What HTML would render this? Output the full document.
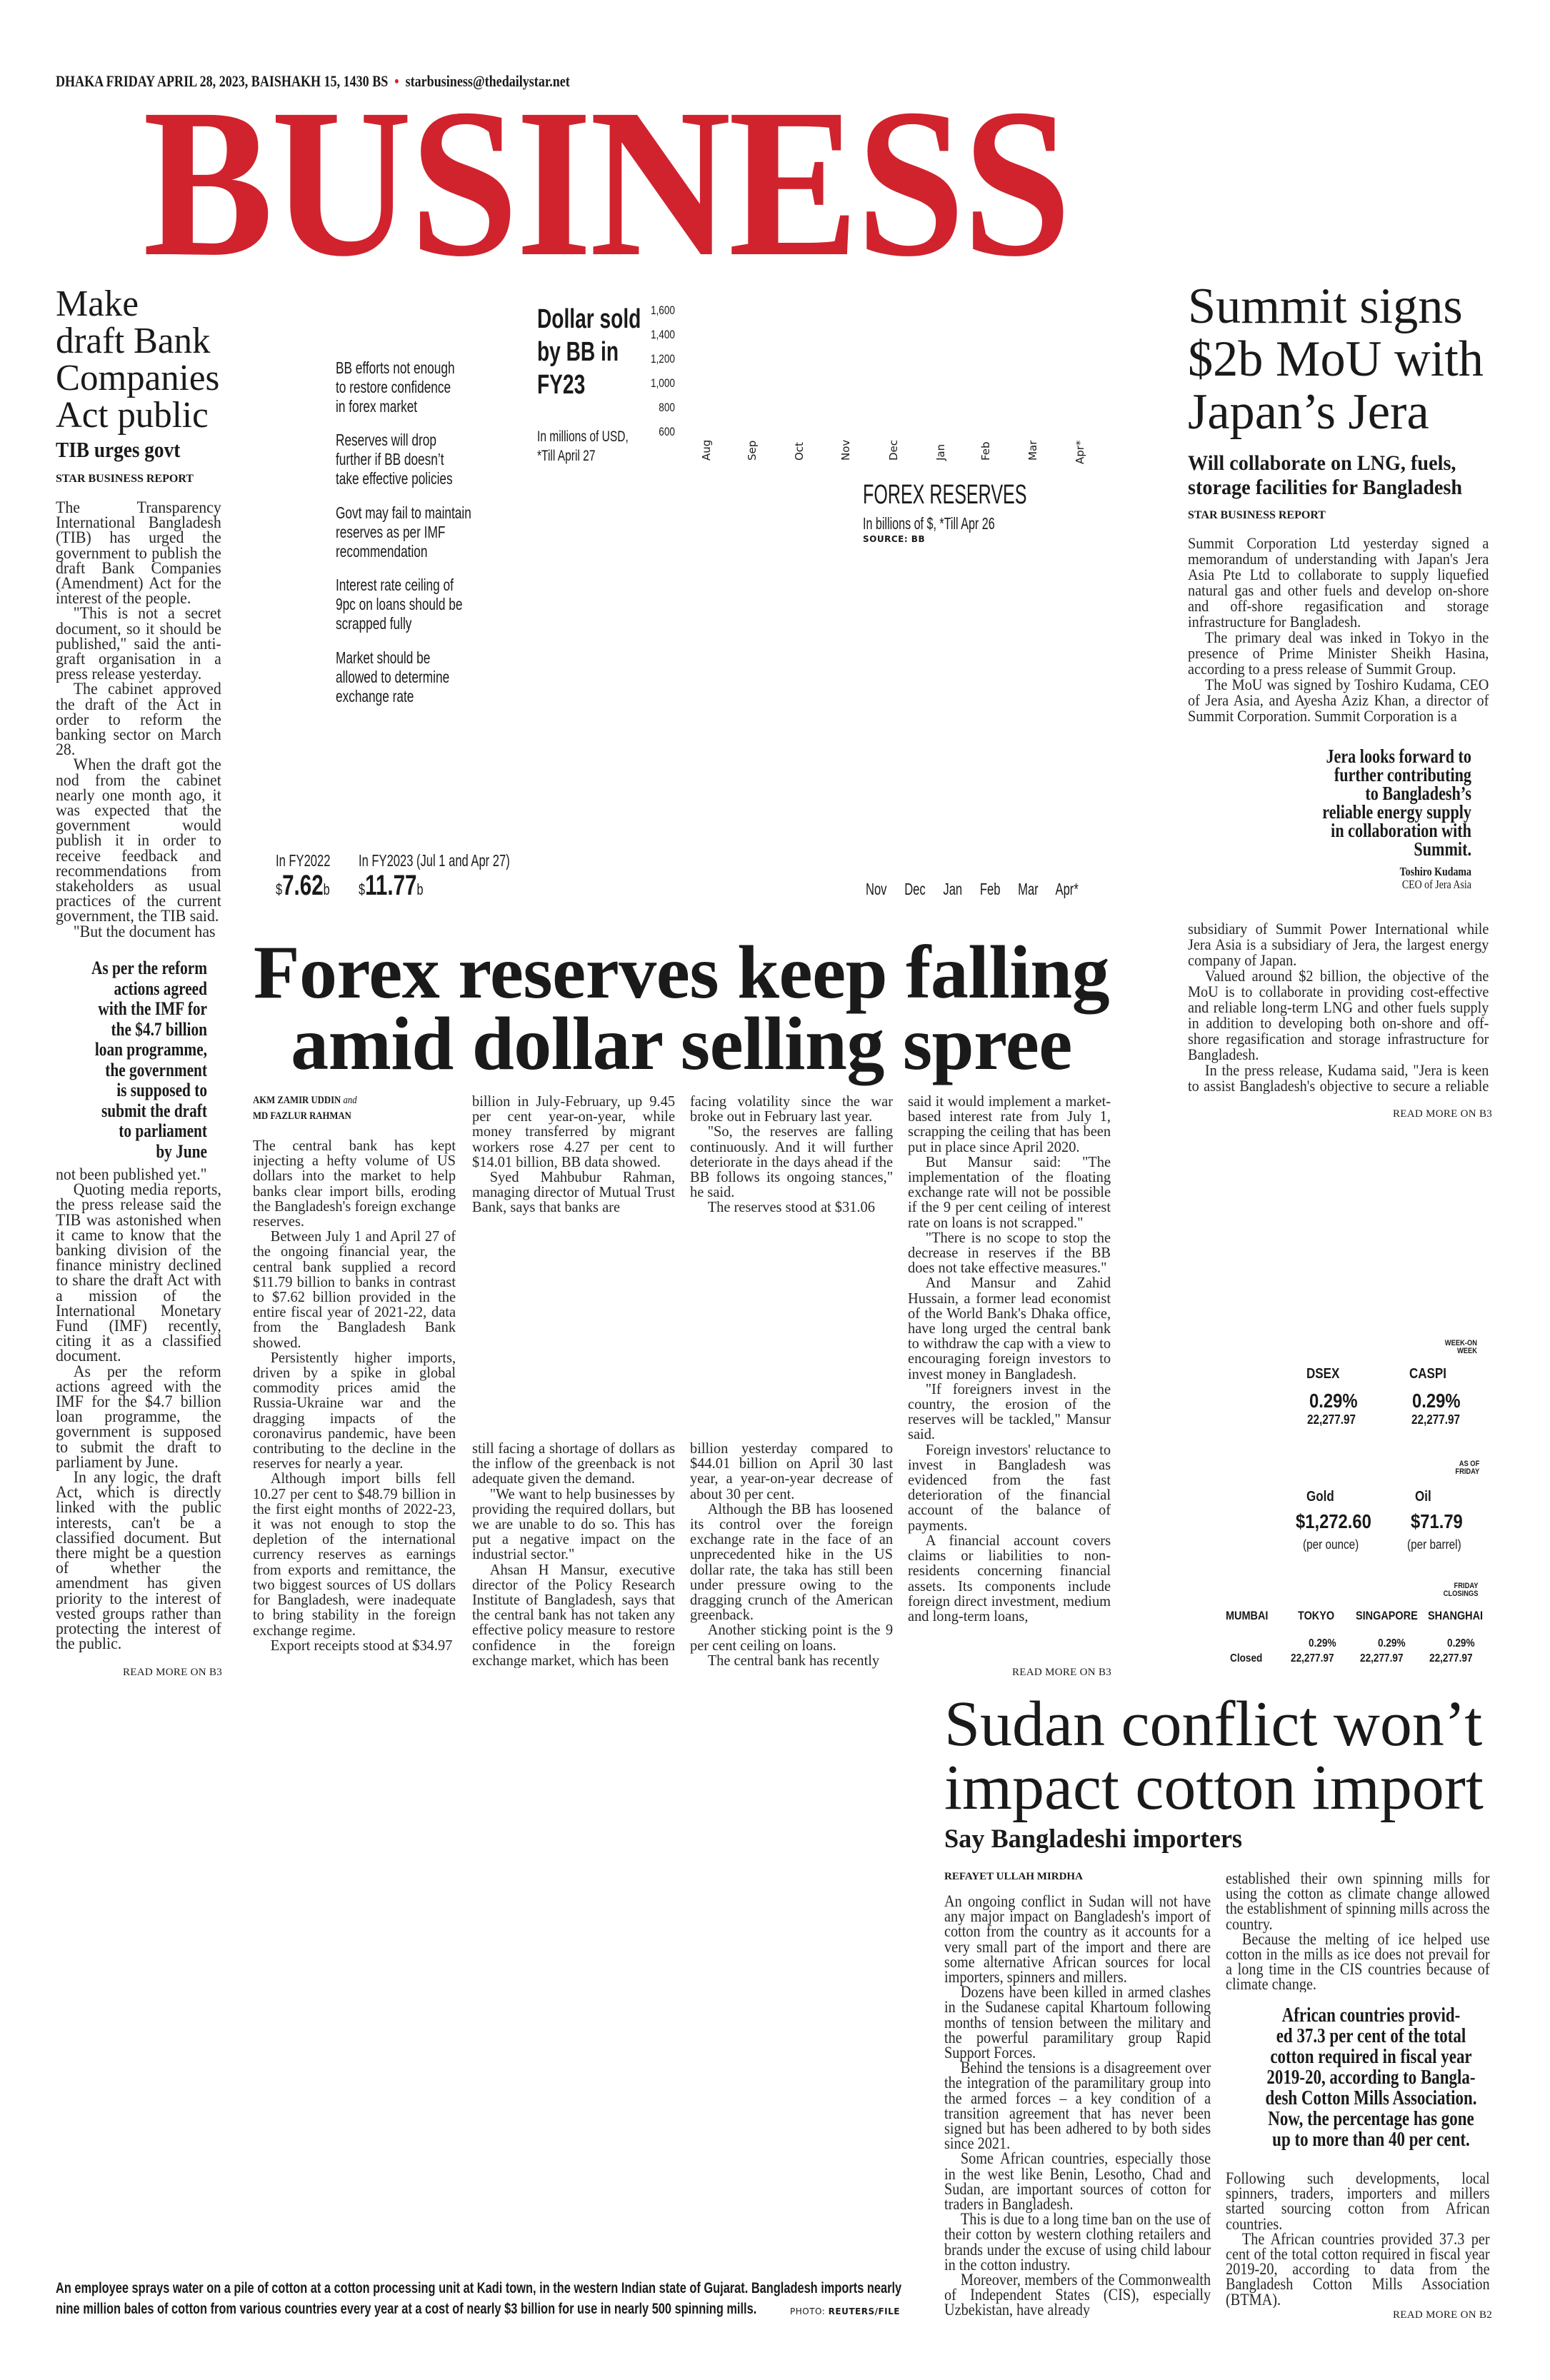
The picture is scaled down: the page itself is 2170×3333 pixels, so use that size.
<!DOCTYPE html>
<html><head><meta charset="utf-8">
<style>
*{margin:0;padding:0;box-sizing:border-box}
body{width:2170px;height:3333px;background:#fff;position:relative;overflow:hidden;font-family:"Liberation Serif",serif;color:#1a1a1a}
.a{position:absolute}
.cond{font-family:"Liberation Sans Narrow","Liberation Sans",sans-serif}
.body{position:absolute;font-family:"Liberation Serif",serif;font-size:23px;line-height:21.2px;text-align:justify;color:#262626;transform:scaleX(0.95);transform-origin:0 0;overflow:hidden;hyphens:auto}
.body p{text-indent:26px}
.body p.ni{text-indent:0}
.fx{font-size:21.5px}
.rm{position:absolute;font-size:15px;font-family:"Liberation Serif",serif;letter-spacing:0.3px;white-space:nowrap}
.pq{position:absolute;font-weight:bold;text-align:right;transform:scaleX(0.82);transform-origin:100% 0}
.hl{position:absolute;font-family:"Liberation Serif",serif;transform-origin:0 0;white-space:nowrap}
.bul{position:absolute;left:470px;font-size:23px;line-height:27px;transform:scaleX(0.75);transform-origin:0 0;white-space:nowrap;font-family:"Liberation Sans Narrow","Liberation Sans",sans-serif}
.mo{position:absolute;font-family:"DejaVu Sans",sans-serif;font-size:15px;transform:rotate(-90deg);transform-origin:0 0;white-space:nowrap}
.mk{position:absolute;font-family:"Liberation Sans",sans-serif;font-weight:bold;transform:scaleX(0.85);transform-origin:0 0;white-space:nowrap}
</style></head><body>

<div class="a" style="left:78px;top:101px;font-size:22px;font-weight:bold;white-space:nowrap;transform:scaleX(0.82);transform-origin:0 0">DHAKA FRIDAY APRIL 28, 2023, BAISHAKH 15, 1430 BS <span style="color:#d0232e">&nbsp;•&nbsp;</span> starbusiness@thedailystar.net</div>

<div class="a" style="left:200px;top:96px;font-size:298px;line-height:320px;font-weight:bold;color:#d0232e;white-space:nowrap;transform:scaleX(0.92);transform-origin:0 0;letter-spacing:-4px">BUSINESS</div>

<!-- LEFT COLUMN -->
<div class="hl" style="left:78px;top:400px;font-size:52px;line-height:52px;transform:scaleX(0.98)">Make<br>draft Bank<br>Companies<br>Act public</div>
<div class="hl" style="left:78px;top:612px;font-size:31px;font-weight:bold;transform:scaleX(0.88)">TIB urges govt</div>
<div class="hl" style="left:78px;top:662px;font-size:16px;font-weight:bold">STAR BUSINESS REPORT</div>
<div class="body" style="left:78px;top:700px;width:244px;height:615px">
<p class="ni">The Transparency International Bangladesh (TIB) has urged the government to publish the draft Bank Companies (Amendment) Act for the interest of the people.</p>
<p>"This is not a secret document, so it should be published," said the anti-graft organisation in a press release yesterday.</p>
<p>The cabinet approved the draft of the Act in order to reform the banking sector on March 28.</p>
<p>When the draft got the nod from the cabinet nearly one month ago, it was expected that the government would publish it in order to receive feedback and recommendations from stakeholders as usual practices of the current government, the TIB said.</p>
<p>"But the document has</p>
</div>
<div class="pq" style="left:0px;top:1342px;width:290px;font-size:26px;line-height:28.5px">As per the reform<br>actions agreed<br>with the IMF for<br>the $4.7 billion<br>loan programme,<br>the government<br>is supposed to<br>submit the draft<br>to parliament<br>by June</div>
<div class="body" style="left:78px;top:1634px;width:244px;height:700px">
<p class="ni">not been published yet."</p>
<p>Quoting media reports, the press release said the TIB was astonished when it came to know that the banking division of the finance ministry declined to share the draft Act with a mission of the International Monetary Fund (IMF) recently, citing it as a classified document.</p>
<p>As per the reform actions agreed with the IMF for the $4.7 billion loan programme, the government is supposed to submit the draft to parliament by June.</p>
<p>In any logic, the draft Act, which is directly linked with the public interests, can't be a classified document. But there might be a question of whether the amendment has given priority to the interest of vested groups rather than protecting the interest of the public.</p>
</div>
<div class="rm" style="left:172px;top:2334px">READ MORE ON B3</div>

<!-- CENTER GRAPHIC -->
<div class="bul" style="top:502px">BB efforts not enough<br>to restore confidence<br>in forex market</div>
<div class="bul" style="top:603px">Reserves will drop<br>further if BB doesn’t<br>take effective policies</div>
<div class="bul" style="top:705px">Govt may fail to maintain<br>reserves as per IMF<br>recommendation</div>
<div class="bul" style="top:806px">Interest rate ceiling of<br>9pc on loans should be<br>scrapped fully</div>
<div class="bul" style="top:908px">Market should be<br>allowed to determine<br>exchange rate</div>

<div class="a cond" style="left:752px;top:424px;font-size:38px;line-height:46px;font-weight:bold;transform:scaleX(0.74);transform-origin:0 0;white-space:nowrap">Dollar sold<br>by BB in<br>FY23</div>
<div class="a cond" style="left:895px;top:418px;width:50px;text-align:right;font-size:17px;line-height:34px;transform:scaleX(0.8);transform-origin:100% 0">1,600<br>1,400<br>1,200<br>1,000<br>800<br>600</div>
<div class="a cond" style="left:752px;top:598px;font-size:21px;line-height:27px;transform:scaleX(0.74);transform-origin:0 0;white-space:nowrap">In millions of USD,<br>*Till April 27</div>
<div class="mo" style="left:980px;top:645px">Aug</div>
<div class="mo" style="left:1044px;top:645px">Sep</div>
<div class="mo" style="left:1110px;top:645px">Oct</div>
<div class="mo" style="left:1175px;top:645px">Nov</div>
<div class="mo" style="left:1242px;top:645px">Dec</div>
<div class="mo" style="left:1308px;top:645px">Jan</div>
<div class="mo" style="left:1371px;top:645px">Feb</div>
<div class="mo" style="left:1437px;top:645px">Mar</div>
<div class="mo" style="left:1503px;top:650px">Apr*</div>
<div class="a cond" style="left:1208px;top:672px;font-size:38px;transform:scaleX(0.66);transform-origin:0 0;white-space:nowrap">FOREX RESERVES</div>
<div class="a cond" style="left:1208px;top:720px;font-size:23px;transform:scaleX(0.7);transform-origin:0 0;white-space:nowrap">In billions of $, *Till Apr 26</div>
<div class="a" style="left:1208px;top:748px;font-size:12px;font-weight:bold;font-family:'DejaVu Sans',sans-serif;letter-spacing:0.5px">SOURCE: BB</div>

<div class="a cond" style="left:386px;top:1192px;font-size:23px;transform:scaleX(0.72);transform-origin:0 0;white-space:nowrap">In FY2022</div>
<div class="a cond" style="left:502px;top:1192px;font-size:23px;transform:scaleX(0.72);transform-origin:0 0;white-space:nowrap">In FY2023 (Jul 1 and Apr 27)</div>
<div class="a cond" style="left:386px;top:1218px;font-size:40px;font-weight:bold;transform:scaleX(0.74);transform-origin:0 0;white-space:nowrap"><span style="font-size:22px;font-weight:normal">$</span>7.62<span style="font-size:22px;font-weight:normal">b</span></div>
<div class="a cond" style="left:502px;top:1218px;font-size:40px;font-weight:bold;transform:scaleX(0.74);transform-origin:0 0;white-space:nowrap"><span style="font-size:22px;font-weight:normal">$</span>11.77<span style="font-size:22px;font-weight:normal">b</span></div>
<div class="a cond" style="left:1212px;top:1232px;font-size:23px;transform:scaleX(0.72);transform-origin:0 0;white-space:nowrap;word-spacing:28px">Nov Dec Jan Feb Mar Apr*</div>

<!-- RIGHT COLUMN SUMMIT -->
<div class="hl" style="left:1663px;top:392px;font-size:71px;line-height:74px;transform:scaleX(0.99)">Summit signs<br>$2b MoU with<br>Japan’s Jera</div>
<div class="hl" style="left:1663px;top:632px;font-size:30px;line-height:34px;font-weight:bold;transform:scaleX(0.94)">Will collaborate on LNG, fuels,<br>storage facilities for Bangladesh</div>
<div class="hl" style="left:1663px;top:713px;font-size:16px;font-weight:bold">STAR BUSINESS REPORT</div>
<div class="body" style="left:1663px;top:750px;width:458px;height:264px;transform:scaleX(0.92);font-size:22px;line-height:22px">
<p class="ni">Summit Corporation Ltd yesterday signed a memorandum of understanding with Japan's Jera Asia Pte Ltd to collaborate to supply liquefied natural gas and other fuels and develop on-shore and off-shore regasification and storage infrastructure for Bangladesh.</p>
<p>The primary deal was inked in Tokyo in the presence of Prime Minister Sheikh Hasina, according to a press release of Summit Group.</p>
<p>The MoU was signed by Toshiro Kudama, CEO of Jera Asia, and Ayesha Aziz Khan, a director of Summit Corporation. Summit Corporation is a</p>
</div>
<div class="pq" style="left:1740px;top:1046px;width:320px;font-size:27px;line-height:26px">Jera looks forward to<br>further contributing<br>to Bangladesh’s<br>reliable energy supply<br>in collaboration with<br>Summit.</div>
<div class="pq" style="left:1800px;top:1212px;width:260px;font-size:17px;line-height:18px">Toshiro Kudama<br><span style="font-weight:normal">CEO of Jera Asia</span></div>
<div class="body" style="left:1663px;top:1290px;width:458px;height:242px;transform:scaleX(0.92);font-size:22px;line-height:22px">
<p class="ni">subsidiary of Summit Power International while Jera Asia is a subsidiary of Jera, the largest energy company of Japan.</p>
<p>Valued around $2 billion, the objective of the MoU is to collaborate in providing cost-effective and reliable long-term LNG and other fuels supply in addition to developing both on-shore and off-shore regasification and storage infrastructure for Bangladesh.</p>
<p>In the press release, Kudama said, "Jera is keen to assist Bangladesh's objective to secure a reliable energy supply and is pleased to be able to do that</p>
</div>
<div class="rm" style="left:1950px;top:1552px">READ MORE ON B3</div>

<!-- MAIN HEADLINE -->
<div class="a" style="left:340px;top:1312px;width:1228px;text-align:center;font-size:106px;line-height:100px;font-weight:bold;letter-spacing:-0.5px;white-space:nowrap">Forex reserves keep falling<br>amid dollar selling spree</div>
<div class="a" style="left:354px;top:1530px;font-size:15px;line-height:22px;font-weight:bold;transform:scaleX(0.85);transform-origin:0 0">AKM ZAMIR UDDIN <i style="font-weight:normal">and</i><br>MD FAZLUR RAHMAN</div>
<div class="body fx" style="left:354px;top:1594px;width:299px;height:742px">
<p class="ni">The central bank has kept injecting a hefty volume of US dollars into the market to help banks clear import bills, eroding the Bangladesh's foreign exchange reserves.</p>
<p>Between July 1 and April 27 of the ongoing financial year, the central bank supplied a record $11.79 billion to banks in contrast to $7.62 billion provided in the entire fiscal year of 2021-22, data from the Bangladesh Bank showed.</p>
<p>Persistently higher imports, driven by a spike in global commodity prices amid the Russia-Ukraine war and the dragging impacts of the coronavirus pandemic, have been contributing to the decline in the reserves for nearly a year.</p>
<p>Although import bills fell 10.27 per cent to $48.79 billion in the first eight months of 2022-23, it was not enough to stop the depletion of the international currency reserves as earnings from exports and remittance, the two biggest sources of US dollars for Bangladesh, were inadequate to bring stability in the foreign exchange regime.</p>
<p>Export receipts stood at $34.97</p>
</div>
<div class="body fx" style="left:661px;top:1532px;width:299px;height:234px">
<p class="ni">billion in July-February, up 9.45 per cent year-on-year, while money transferred by migrant workers rose 4.27 per cent to $14.01 billion, BB data showed.</p>
<p>Syed Mahbubur Rahman, managing director of Mutual Trust Bank, says that banks are</p>
</div>
<div class="body fx" style="left:661px;top:2018px;width:299px;height:318px">
<p class="ni">still facing a shortage of dollars as the inflow of the greenback is not adequate given the demand.</p>
<p>"We want to help businesses by providing the required dollars, but we are unable to do so. This has put a negative impact on the industrial sector."</p>
<p>Ahsan H Mansur, executive director of the Policy Research Institute of Bangladesh, says that the central bank has not taken any effective policy measure to restore confidence in the foreign exchange market, which has been</p>
</div>
<div class="body fx" style="left:966px;top:1532px;width:299px;height:172px">
<p class="ni">facing volatility since the war broke out in February last year.</p>
<p>"So, the reserves are falling continuously. And it will further deteriorate in the days ahead if the BB follows its ongoing stances," he said.</p>
<p>The reserves stood at $31.06</p>
</div>
<div class="body fx" style="left:966px;top:2018px;width:299px;height:382px">
<p class="ni">billion yesterday compared to $44.01 billion on April 30 last year, a year-on-year decrease of about 30 per cent.</p>
<p>Although the BB has loosened its control over the foreign exchange rate in the face of an unprecedented hike in the US dollar rate, the taka has still been under pressure owing to the dragging crunch of the American greenback.</p>
<p>Another sticking point is the 9 per cent ceiling on loans.</p>
<p>The central bank has recently</p>
</div>
<div class="body fx" style="left:1271px;top:1532px;width:299px;height:785px">
<p class="ni">said it would implement a market-based interest rate from July 1, scrapping the ceiling that has been put in place since April 2020.</p>
<p>But Mansur said: "The implementation of the floating exchange rate will not be possible if the 9 per cent ceiling of interest rate on loans is not scrapped."</p>
<p>"There is no scope to stop the decrease in reserves if the BB does not take effective measures."</p>
<p>And Mansur and Zahid Hussain, a former lead economist of the World Bank's Dhaka office, have long urged the central bank to withdraw the cap with a view to encouraging foreign investors to invest money in Bangladesh.</p>
<p>"If foreigners invest in the country, the erosion of the reserves will be tackled," Mansur said.</p>
<p>Foreign investors' reluctance to invest in Bangladesh was evidenced from the fast deterioration of the financial account of the balance of payments.</p>
<p>A financial account covers claims or liabilities to non-residents concerning financial assets. Its components include foreign direct investment, medium and long-term loans,</p>
</div>
<div class="rm" style="left:1417px;top:2334px">READ MORE ON B3</div>

<!-- MARKETS -->
<div class="mk" style="left:2000px;top:1876px;font-size:11px;line-height:11px;text-align:right;width:80px">WEEK-ON<br>WEEK</div>
<div class="mk" style="left:1829px;top:1913px;font-size:20px">DSEX</div>
<div class="mk" style="left:1973px;top:1913px;font-size:20px">CASPI</div>
<div class="mk" style="left:1833px;top:1946px;font-size:28px">0.29%</div>
<div class="mk" style="left:1977px;top:1946px;font-size:28px">0.29%</div>
<div class="mk" style="left:1830px;top:1978px;font-size:18px">22,277.97</div>
<div class="mk" style="left:1976px;top:1978px;font-size:18px">22,277.97</div>
<div class="mk" style="left:2022px;top:2045px;font-size:11px;line-height:11px;text-align:right;width:58px">AS OF<br>FRIDAY</div>
<div class="mk" style="left:1829px;top:2085px;font-size:20px">Gold</div>
<div class="mk" style="left:1981px;top:2085px;font-size:20px">Oil</div>
<div class="mk" style="left:1814px;top:2115px;font-size:28px">$1,272.60</div>
<div class="mk" style="left:1975px;top:2115px;font-size:28px">$71.79</div>
<div class="mk" style="left:1824px;top:2153px;font-size:18px;font-weight:normal">(per ounce)</div>
<div class="mk" style="left:1970px;top:2153px;font-size:18px;font-weight:normal">(per barrel)</div>
<div class="mk" style="left:2010px;top:2216px;font-size:11px;line-height:11px;text-align:right;width:70px">FRIDAY<br>CLOSINGS</div>
<div class="mk" style="left:1716px;top:2253px;font-size:17px">MUMBAI</div>
<div class="mk" style="left:1817px;top:2253px;font-size:17px">TOKYO</div>
<div class="mk" style="left:1898px;top:2253px;font-size:17px">SINGAPORE</div>
<div class="mk" style="left:1999px;top:2253px;font-size:17px">SHANGHAI</div>
<div class="mk" style="left:1832px;top:2293px;font-size:16px">0.29%</div>
<div class="mk" style="left:1929px;top:2293px;font-size:16px">0.29%</div>
<div class="mk" style="left:2026px;top:2293px;font-size:16px">0.29%</div>
<div class="mk" style="left:1722px;top:2314px;font-size:16px">Closed</div>
<div class="mk" style="left:1807px;top:2314px;font-size:16px">22,277.97</div>
<div class="mk" style="left:1904px;top:2314px;font-size:16px">22,277.97</div>
<div class="mk" style="left:2001px;top:2314px;font-size:16px">22,277.97</div>

<!-- SUDAN -->
<div class="hl" style="left:1322px;top:2370px;font-size:90px;line-height:89px;transform:scaleX(1.0)">Sudan conflict won’t<br>impact cotton import</div>
<div class="hl" style="left:1322px;top:2554px;font-size:37px;font-weight:bold;transform:scaleX(0.98)">Say Bangladeshi importers</div>
<div class="hl" style="left:1322px;top:2620px;font-size:15px;font-weight:bold">REFAYET ULLAH MIRDHA</div>
<div class="body" style="left:1322px;top:2652px;width:424px;height:594px;transform:scaleX(0.88)">
<p class="ni">An ongoing conflict in Sudan will not have any major impact on Bangladesh's import of cotton from the country as it accounts for a very small part of the import and there are some alternative African sources for local importers, spinners and millers.</p>
<p>Dozens have been killed in armed clashes in the Sudanese capital Khartoum following months of tension between the military and the powerful paramilitary group Rapid Support Forces.</p>
<p>Behind the tensions is a disagreement over the integration of the paramilitary group into the armed forces – a key condition of a transition agreement that has never been signed but has been adhered to by both sides since 2021.</p>
<p>Some African countries, especially those in the west like Benin, Lesotho, Chad and Sudan, are important sources of cotton for traders in Bangladesh.</p>
<p>This is due to a long time ban on the use of their cotton by western clothing retailers and brands under the excuse of using child labour in the cotton industry.</p>
<p>Moreover, members of the Commonwealth of Independent States (CIS), especially Uzbekistan, have already</p>
</div>
<div class="body" style="left:1716px;top:2620px;width:420px;height:170px;transform:scaleX(0.88)">
<p class="ni">established their own spinning mills for using the cotton as climate change allowed the establishment of spinning mills across the country.</p>
<p>Because the melting of ice helped use cotton in the mills as ice does not prevail for a long time in the CIS countries because of climate change.</p>
</div>
<div class="pq" style="left:1700px;top:2808px;width:372px;font-size:28px;line-height:29px;text-align:center">African countries provid-<br>ed 37.3 per cent of the total<br>cotton required in fiscal year<br>2019-20, according to Bangla-<br>desh Cotton Mills Association.<br>Now, the percentage has gone<br>up to more than 40 per cent.</div>
<div class="body" style="left:1716px;top:3040px;width:420px;height:192px;transform:scaleX(0.88)">
<p class="ni">Following such developments, local spinners, traders, importers and millers started sourcing cotton from African countries.</p>
<p>The African countries provided 37.3 per cent of the total cotton required in fiscal year 2019-20, according to data from the Bangladesh Cotton Mills Association (BTMA).</p>
</div>
<div class="rm" style="left:1950px;top:3234px">READ MORE ON B2</div>

<div class="a cond" style="left:78px;top:3190px;font-size:21px;line-height:29px;font-weight:bold;transform:scaleX(0.78);transform-origin:0 0;white-space:nowrap">An employee sprays water on a pile of cotton at a cotton processing unit at Kadi town, in the western Indian state of Gujarat. Bangladesh imports nearly<br>nine million bales of cotton from various countries every year at a cost of nearly $3 billion for use in nearly 500 spinning mills.</div>
<div class="a" style="left:1106px;top:3230px;font-size:12px;font-family:'DejaVu Sans',sans-serif;letter-spacing:0.5px">PHOTO: <b>REUTERS/FILE</b></div>

</body></html>
